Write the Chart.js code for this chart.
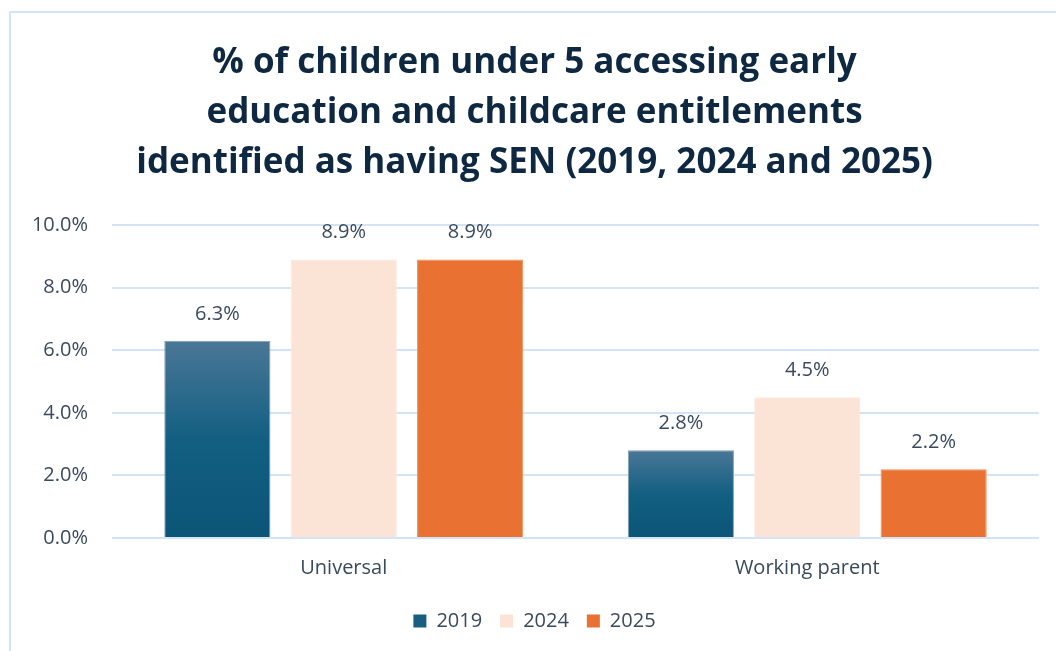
<!DOCTYPE html>
<html>
<head>
<meta charset="utf-8">
<script src="https://cdn.jsdelivr.net/npm/chart.js@4/dist/chart.umd.min.js"></script>
<style>
  html, body { margin: 0; padding: 0; background: #fff; overflow: hidden; }
  #wrap { position: relative; width: 1056px; height: 651px; }
  #frame { position: absolute; left: 9px; top: 11px; width: 1100px; height: 700px;
           border-left: 2px solid #d3e4f6; border-top: 2px solid #d3e4f6; box-sizing: border-box; }
  #c { position: absolute; left: 0; top: 0; }
</style>
</head>
<body>
<div id="wrap">
  <div id="frame"></div>
  <canvas id="c" width="1056" height="651"></canvas>
</div>
<script>
const titleLines = [
  "% of children under 5 accessing early",
  "education and childcare entitlements",
  "identified as having SEN (2019, 2024 and 2025)"
];
const categories = ["Universal", "Working parent"];
const seriesNames = ["2019", "2024", "2025"];
const values2019 = [6.3, 2.8];
const values2024 = [8.9, 4.5];
const values2025 = [8.9, 2.2];
const yTicks = [0, 2, 4, 6, 8, 10];

const FONT = "'Open Sans', sans-serif";
const TEXT = "#3a4a5e";

function gradient2019(ctx) {
  const chart = ctx.chart;
  if (!chart.chartArea || ctx.type !== 'data') return "#0e5a7c";
  const ys = chart.scales.y;
  const top = ys.getPixelForValue(ctx.raw);
  const base = ys.getPixelForValue(0);
  const g = chart.ctx.createLinearGradient(0, top, 0, base);
  g.addColorStop(0, "#4b7796");
  g.addColorStop(0.5, "#125f82");
  g.addColorStop(1, "#0b5577");
  return g;
}

const labelPlugin = {
  id: 'barLabels',
  afterDatasetsDraw(chart) {
    const c = chart.ctx;
    c.save();
    c.font = "20px " + FONT;
    c.fillStyle = TEXT;
    c.textAlign = "center";
    c.textBaseline = "middle";
    chart.data.datasets.forEach((ds, i) => {
      const meta = chart.getDatasetMeta(i);
      meta.data.forEach((el, j) => {
        c.fillText(ds.data[j].toFixed(1) + "%", el.x, el.y - 27);
      });
    });
    c.restore();
  }
};

new Chart(document.getElementById('c'), {
  type: 'bar',
  data: {
    labels: categories,
    datasets: [
      { label: seriesNames[0], data: values2019, backgroundColor: gradient2019, borderColor: "#7f9fb8", borderWidth: 1 },
      { label: seriesNames[1], data: values2024, backgroundColor: "#fbe3d6", borderColor: "#fde9de", borderWidth: 1 },
      { label: seriesNames[2], data: values2025, backgroundColor: "#e97132", borderColor: "#f08a55", borderWidth: 1 }
    ]
  },
  options: {
    responsive: false,
    animation: false,
    devicePixelRatio: 1,
    layout: { padding: { left: 30, right: 17, top: 38, bottom: 10 } },
    datasets: { bar: { categoryPercentage: 0.818, barPercentage: 0.84 } },
    scales: {
      x: {
        grid: { display: false },
        border: { display: false },
        afterFit(axis) { axis.height += 3; },
        ticks: { font: { family: FONT, size: 20 }, color: TEXT, padding: 10 }
      },
      y: {
        min: 0, max: 10,
        afterBuildTicks(axis) { axis.ticks = yTicks.map(v => ({ value: v })); },
        afterFit(axis) { axis.width = 82; },
        grid: { color: "#d3e4f6", lineWidth: 2, drawTicks: false },
        border: { display: false },
        ticks: {
          font: { family: FONT, size: 20 }, color: TEXT, padding: 24,
          callback: v => v.toFixed(1) + "%"
        }
      }
    },
    plugins: {
      title: {
        display: true,
        text: titleLines,
        color: "#0e2841",
        font: { family: FONT, size: 35, weight: 'bold', lineHeight: 1.4286 },
        padding: { top: 0, bottom: 37 }
      },
      legend: {
        position: 'bottom',
        labels: {
          font: { family: FONT, size: 20 },
          color: TEXT,
          boxWidth: 13, boxHeight: 13,
          padding: 18,
          generateLabels(chart) {
            const fills = ["#175e81", "#fbe3d6", "#e97132"];
            return chart.data.datasets.map((ds, i) => ({
              text: ds.label, fillStyle: fills[i], strokeStyle: fills[i], lineWidth: 0,
              fontColor: TEXT, datasetIndex: i, hidden: false
            }));
          }
        }
      },
      tooltip: { enabled: false }
    }
  },
  plugins: [labelPlugin]
});
</script>
</body>
</html>
